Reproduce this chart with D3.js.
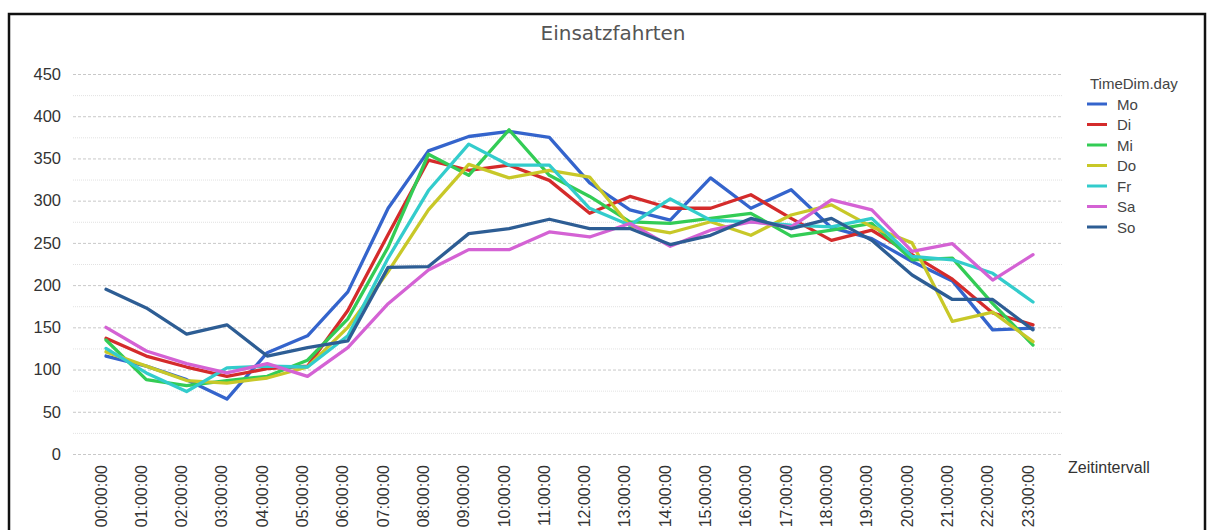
<!DOCTYPE html>
<html>
<head>
<meta charset="utf-8">
<script src="https://cdn.jsdelivr.net/npm/d3@7"></script>
<style>
  html, body { margin: 0; padding: 0; background: #fff; }
  svg { display: block; font-family: "Liberation Sans", Arial, sans-serif; }
</style>
</head>
<body>
<svg id="chart" width="1208" height="530"></svg>
<script>
const title = "Einsatzfahrten";
const legendTitle = "TimeDim.day";
const xAxisTitle = "Zeitintervall";
const hours = ["00:00:00","01:00:00","02:00:00","03:00:00","04:00:00","05:00:00","06:00:00","07:00:00","08:00:00","09:00:00","10:00:00","11:00:00","12:00:00","13:00:00","14:00:00","15:00:00","16:00:00","17:00:00","18:00:00","19:00:00","20:00:00","21:00:00","22:00:00","23:00:00"];
const days = ["Mo","Di","Mi","Do","Fr","Sa","So"];
const colors = ["#3464cc","#d42b2b","#33cc55","#c8c828","#33cccc","#d462d4","#2d5d94"];
const yTicks = [0,50,100,150,200,250,300,350,400,450];
const yMinorTicks = [25,75,125,175,225,275,325,375,425];

const Mo = [116,104,88,65,120,140,192,291,359,376,382,375,321,289,277,327,291,313,268,255,228,205,147,149];
const Di = [137,116,103,92,101,104,170,260,348,336,342,324,285,305,291,291,307,279,253,265,236,207,167,153];
const Mi = [135,88,81,87,92,111,160,245,355,330,384,330,305,275,273,279,285,258,265,273,230,232,178,129];
const Do = [121,104,87,84,90,103,150,216,289,343,327,336,328,270,262,275,259,283,295,269,250,157,168,133];
const Fr = [125,96,74,102,104,103,140,232,312,367,342,342,291,271,302,277,275,271,269,279,234,230,214,180];
const Sa = [150,122,107,96,107,92,126,178,218,242,242,263,257,273,246,265,275,269,301,289,240,249,206,236];
const So = [195,173,142,153,116,126,134,221,222,261,267,278,267,267,248,259,279,267,279,253,212,183,183,147];
const seriesValues = [Mo, Di, Mi, Do, Fr, Sa, So];

const svg = d3.select("#chart");

// frame
svg.append("rect")
  .attr("x", 9).attr("y", 14).attr("width", 1196).attr("height", 540)
  .attr("fill", "none").attr("stroke", "#111").attr("stroke-width", 2.5);

const gridLeft = 73, gridRight = 1063;
const x = d3.scalePoint().domain(hours).range([106, 1033]);
const y = d3.scaleLinear().domain([0, 450]).range([454, 74]);

// title
svg.append("text")
  .attr("x", 613).attr("y", 40)
  .attr("text-anchor", "middle")
  .attr("font-family", "'DejaVu Sans', Verdana, sans-serif")
  .attr("font-size", 20)
  .attr("fill", "#555")
  .text(title);

// minor grid
svg.append("g").selectAll("line").data(yMinorTicks).join("line")
  .attr("x1", gridLeft).attr("x2", gridRight)
  .attr("y1", d => y(d) + 0.5).attr("y2", d => y(d) + 0.5)
  .attr("stroke", "#e2e2e2").attr("stroke-width", 1)
  .attr("stroke-dasharray", "1,1");

// major grid
svg.append("g").selectAll("line").data(yTicks).join("line")
  .attr("x1", gridLeft).attr("x2", gridRight)
  .attr("y1", d => y(d) + 0.5).attr("y2", d => y(d) + 0.5)
  .attr("stroke", "#c8c8c8").attr("stroke-width", 1)
  .attr("stroke-dasharray", "3,2");

// y axis labels
const yAxis = d3.axisLeft(y).tickValues(yTicks).tickSize(0).tickPadding(0);
const yg = svg.append("g").attr("transform", "translate(61,0)").call(yAxis);
yg.select(".domain").remove();
yg.selectAll("text").attr("font-size", 16.5).attr("fill", "#333")
  .attr("font-family", "'Liberation Sans', Arial, sans-serif");

// x axis labels
const xAxis = d3.axisBottom(x).tickSize(0).tickPadding(0);
const xg = svg.append("g").attr("transform", "translate(0,465)").call(xAxis);
xg.select(".domain").remove();
xg.selectAll("text")
  .attr("font-size", 16).attr("fill", "#333")
  .attr("font-family", "'Liberation Sans', Arial, sans-serif")
  .attr("transform", "rotate(-90)")
  .attr("text-anchor", "end")
  .attr("x", 0).attr("y", 0).attr("dy", "0");

svg.append("text")
  .attr("x", 1068).attr("y", 473)
  .attr("font-size", 16).attr("fill", "#333")
  .text(xAxisTitle);

// lines
const line = d3.line().x((d, i) => x(hours[i])).y(d => y(d));
svg.append("g").selectAll("path").data(seriesValues).join("path")
  .attr("d", d => line(d))
  .attr("fill", "none")
  .attr("stroke", (d, i) => colors[i])
  .attr("stroke-width", 3.3)
  .attr("stroke-linejoin", "round")
  .attr("stroke-linecap", "round");

// legend
svg.append("text")
  .attr("x", 1090).attr("y", 89)
  .attr("font-size", 15).attr("fill", "#444")
  .text(legendTitle);
const lg = svg.append("g").selectAll("g").data(days).join("g")
  .attr("transform", (d, i) => `translate(0,${104 + i * 20.5})`);
lg.append("line").attr("x1", 1087).attr("x2", 1107).attr("y1", 0).attr("y2", 0)
  .attr("stroke", (d, i) => colors[i]).attr("stroke-width", 3);
lg.append("text").attr("x", 1117).attr("y", 5.5)
  .attr("font-size", 15).attr("fill", "#444")
  .text(d => d);
</script>
</body>
</html>
